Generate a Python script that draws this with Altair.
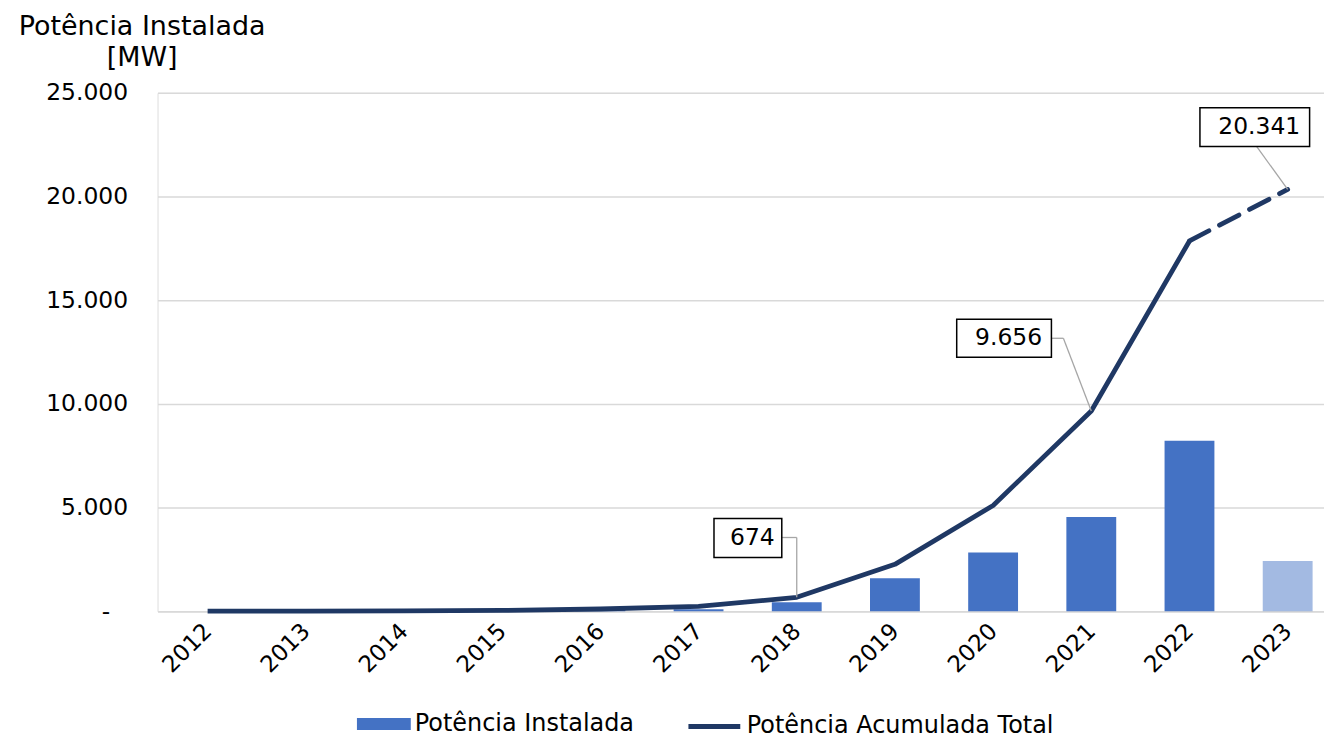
import altair as alt
import pandas as pd

# ---- data ----
anos = [2012, 2013, 2014, 2015, 2016, 2017, 2018, 2019, 2020, 2021, 2022, 2023]
potencia_instalada = [3, 5, 10, 20, 70, 100, 440, 1590, 2840, 4550, 8220, 2420]
potencia_acumulada = [5, 10, 20, 40, 110, 234, 674, 2264, 5104, 9656, 17860, 20341]
anos_claros = [2012, 2023]
anos_rotulados = [2018, 2021, 2023]
serie_barras = "Potência Instalada"
serie_linha = "Potência Acumulada Total"
y_ticks = [0, 5000, 10000, 15000, 20000, 25000]
y_titulo = ["Potência Instalada", "[MW]"]

df = pd.DataFrame({
    "ano": anos,
    "instalada": potencia_instalada,
    "acumulada": potencia_acumulada,
    "serie_b": [serie_barras] * len(anos),
    "serie_l": [serie_linha] * len(anos),
})

FONT = "DejaVu Sans"
GRID = "#D9D9D9"
BAR = "#4472C4"
LINE = "#1F3864"

x_axis = alt.Axis(values=anos, format="d", labelAngle=-45, labelAlign="right",
                  labelBaseline="middle", labelPadding=16, labelFontSize=23,
                  labelColor="#000000", ticks=False, domain=True, domainColor=GRID,
                  domainWidth=1.5, grid=False, title=None, labelFont=FONT)
y_axis = alt.Axis(values=y_ticks,
                  labelExpr="datum.value == 0 ? '-' : replace(format(datum.value, ',.0f'), ',', '.')",
                  labelFontSize=23.5, labelColor="#000000",
                  labelPadding={"condition": {"test": "datum.value == 0", "value": 48}, "value": 30},
                  ticks=False,
                  domain=False, grid=True, gridColor=GRID, gridWidth=1.5,
                  title=y_titulo, titleAngle=0, titleAlign="center", titleBaseline="top",
                  titleX=-16, titleY=-80, titleLineHeight=32, titleFontSize=27,
                  titleFontWeight="normal", titleColor="#000000", titleFont=FONT, labelFont=FONT)

x_scale = alt.Scale(domain=[2011.49, 2023.37], nice=False, zero=False, padding=0)
y_scale = alt.Scale(domain=[0, 25000], nice=False, padding=0)

X = alt.X("ano:Q", scale=x_scale, axis=x_axis)

bar_symbol = "M-1,-0.22H1V0.22H-1Z"

barras = alt.Chart(df).mark_bar(size=50).encode(
    x=X,
    y=alt.Y("instalada:Q", scale=y_scale, axis=y_axis),
    fill=alt.Fill("serie_b:N", scale=alt.Scale(domain=[serie_barras], range=[BAR]),
                  legend=alt.Legend(orient="none", legendX=200, legendY=606, direction="horizontal",
                                    title=None, symbolType=bar_symbol, symbolSize=2916,
                                    symbolStrokeWidth=0, labelFontSize=24, labelOffset=4,
                                    labelLimit=0, labelColor="#000000", labelFont=FONT, padding=0)),
    opacity=alt.condition(alt.FieldOneOfPredicate(field="ano", oneOf=anos_claros),
                          alt.value(0.49), alt.value(1.0)),
)

linha = alt.Chart(df).transform_filter("datum.ano <= 2022").mark_line(
    strokeWidth=4.8, strokeJoin="round", strokeCap="butt").encode(
    x=X,
    y=alt.Y("acumulada:Q", scale=y_scale, axis=y_axis),
    stroke=alt.Stroke("serie_l:N", scale=alt.Scale(domain=[serie_linha], range=[LINE]),
                      legend=alt.Legend(orient="none", legendX=530, legendY=607, direction="horizontal",
                                        title=None, symbolType="stroke", symbolSize=2704,
                                        symbolStrokeWidth=5, labelFontSize=24, labelOffset=4,
                                        labelLimit=0, labelColor="#000000", labelFont=FONT, padding=0)),
)

linha_tracejada = alt.Chart(df).transform_filter("datum.ano >= 2022").mark_line(
    strokeWidth=4.8, strokeDash=[22, 12], strokeCap="round", color=LINE).encode(
    x=X,
    y=alt.Y("acumulada:Q", scale=y_scale, axis=y_axis),
)

# annotation geometry (pixel offsets from the labelled point)
anotacoes = {
    2018: dict(box=(-49, -59.5, 68, 39), leader=[((0, 0), (0, -60)), ((0, -60), (-15, -60))]),
    2021: dict(box=(-87.5, -73, 95, 38), leader=[((0, 0), (-28, -73)), ((-28, -73), (-40, -73))]),
    2023: dict(box=(-33, -62.5, 110, 39), leader=[((0, 0), (-31, -43))]),
}

camadas = [barras, linha, linha_tracejada]
for ano in anos_rotulados:
    geo = anotacoes[ano]
    base = alt.Chart(df).transform_filter(f"datum.ano == {ano}")
    for (a, b) in geo["leader"]:
        camadas.append(base.mark_rule(color="#A6A6A6", strokeWidth=1.3,
                                      xOffset=a[0], yOffset=a[1], x2Offset=b[0], y2Offset=b[1]).encode(
            x=X, x2=alt.X2("ano"),
            y=alt.Y("acumulada:Q", scale=y_scale, axis=y_axis), y2=alt.Y2("acumulada")))
    dx, dy, w, h = geo["box"]
    path = f"M-1,-{h / w:.4f}H1V{h / w:.4f}H-1Z"
    camadas.append(base.mark_point(shape=path, size=w * w, filled=True, fill="white",
                                   stroke="black", strokeWidth=1.5, opacity=1,
                                   xOffset=dx, yOffset=dy).encode(
        x=X, y=alt.Y("acumulada:Q", scale=y_scale, axis=y_axis)))
    camadas.append(base.transform_calculate(
        rotulo="replace(format(datum.acumulada, ',.0f'), ',', '.')").mark_text(
        fontSize=23.5, font=FONT, color="#000000", align="center", baseline="middle",
        dx=dx + 4.5, dy=dy).encode(
        x=X, y=alt.Y("acumulada:Q", scale=y_scale, axis=y_axis), text="rotulo:N"))

chart = alt.layer(*camadas).properties(
    width=1170, height=520,
    autosize=alt.AutoSizeParams(type="none"),
    padding={"left": 150, "top": 84, "right": 0, "bottom": 140},
).configure_view(stroke=None).configure(font=FONT)

chart.save("out.html", embed_options={"renderer": "svg", "actions": False})
